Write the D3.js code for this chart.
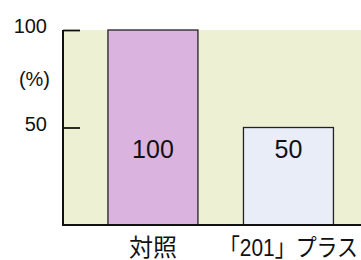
<!DOCTYPE html>
<html>
<head>
<meta charset="utf-8">
<script src="https://cdn.jsdelivr.net/npm/d3@7"></script>
<style>
  body { margin: 0; background: #fff; }
  svg text { font-family: "Liberation Sans", "Noto Sans CJK JP", sans-serif; fill: #111; }
</style>
</head>
<body>
<div id="chart"></div>
<script>
// values
var categories = ['対照', '「201」プラス']
var values = [100, 50]
var tickValues = [50, 100]
var barColors = ['#dab4df', '#e8edf8']

var width = 361, height = 260
var m = { left: 63, right: 361, top: 30, bottom: 225 }

var svg = d3.select('#chart').append('svg')
  .attr('width', width)
  .attr('height', height)

var y = d3.scaleLinear().domain([0, 100]).range([m.bottom, m.top])

var x = d3.scaleBand()
  .domain(categories)
  .range([m.left, m.right])
  .paddingInner(0.336)
  .paddingOuter(0.2675)
  .align(0.62)

// plot background
svg.append('rect')
  .attr('x', m.left).attr('y', y(100))
  .attr('width', m.right - m.left).attr('height', m.bottom - y(100))
  .attr('fill', '#eef0d3')

svg.selectAll('rect.bar')
  .data(values)
  .enter().append('rect')
  .attr('class', 'bar')
  .attr('x', function(d, i) { return x(categories[i]) })
  .attr('y', function(d) { return y(d) })
  .attr('width', x.bandwidth())
  .attr('height', function(d) { return m.bottom - y(d) })
  .attr('fill', function(d, i) { return barColors[i] })
  .attr('stroke', '#222')
  .attr('stroke-width', 1.3)

svg.selectAll('text.val')
  .data(values)
  .enter().append('text')
  .attr('class', 'val')
  .attr('x', function(d, i) { return x(categories[i]) + x.bandwidth() / 2 })
  .attr('y', function(d) { return y(50) + 30 })
  .attr('text-anchor', 'middle')
  .style('font-size', '25px')
  .text(function(d) { return d })

// y axis
var yAxis = svg.append('g')
  .attr('transform', 'translate(' + m.left + ',0)')
  .call(d3.axisRight(y).tickValues(tickValues).tickSize(17).tickFormat(''))
yAxis.select('.domain').remove()
yAxis.selectAll('line').attr('stroke', '#111').attr('stroke-width', 1.8)

svg.append('path')
  .attr('d', 'M' + m.left + ',' + y(100) + 'V' + m.bottom + 'H' + m.right)
  .attr('fill', 'none')
  .attr('stroke', '#111')
  .attr('stroke-width', 2)

svg.selectAll('text.tick')
  .data(tickValues)
  .enter().append('text')
  .attr('class', 'tick')
  .attr('x', 47)
  .attr('y', function(d) { return y(d) + 3 })
  .attr('text-anchor', 'end')
  .style('font-size', '20px')
  .text(function(d) { return d })

svg.append('text')
  .attr('x', 50).attr('y', y(75) + 7)
  .attr('text-anchor', 'end')
  .style('font-size', '20px')
  .text('(%)')

svg.selectAll('text.cat')
  .data(categories)
  .enter().append('text')
  .attr('class', 'cat')
  .attr('x', function(d) { return x(d) + x.bandwidth() / 2 })
  .attr('y', 256)
  .attr('text-anchor', 'middle')
  .style('font-size', '24px')
  .text(function(d) { return d })
  .each(function(d) {
    // squeeze a label that would run past the right edge
    var cx = x(d) + x.bandwidth() / 2
    var room = 2 * (width - 3 - cx)
    if (this.getComputedTextLength() > room) {
      d3.select(this).attr('textLength', room).attr('lengthAdjust', 'spacingAndGlyphs')
    }
  })
</script>
</body>
</html>
